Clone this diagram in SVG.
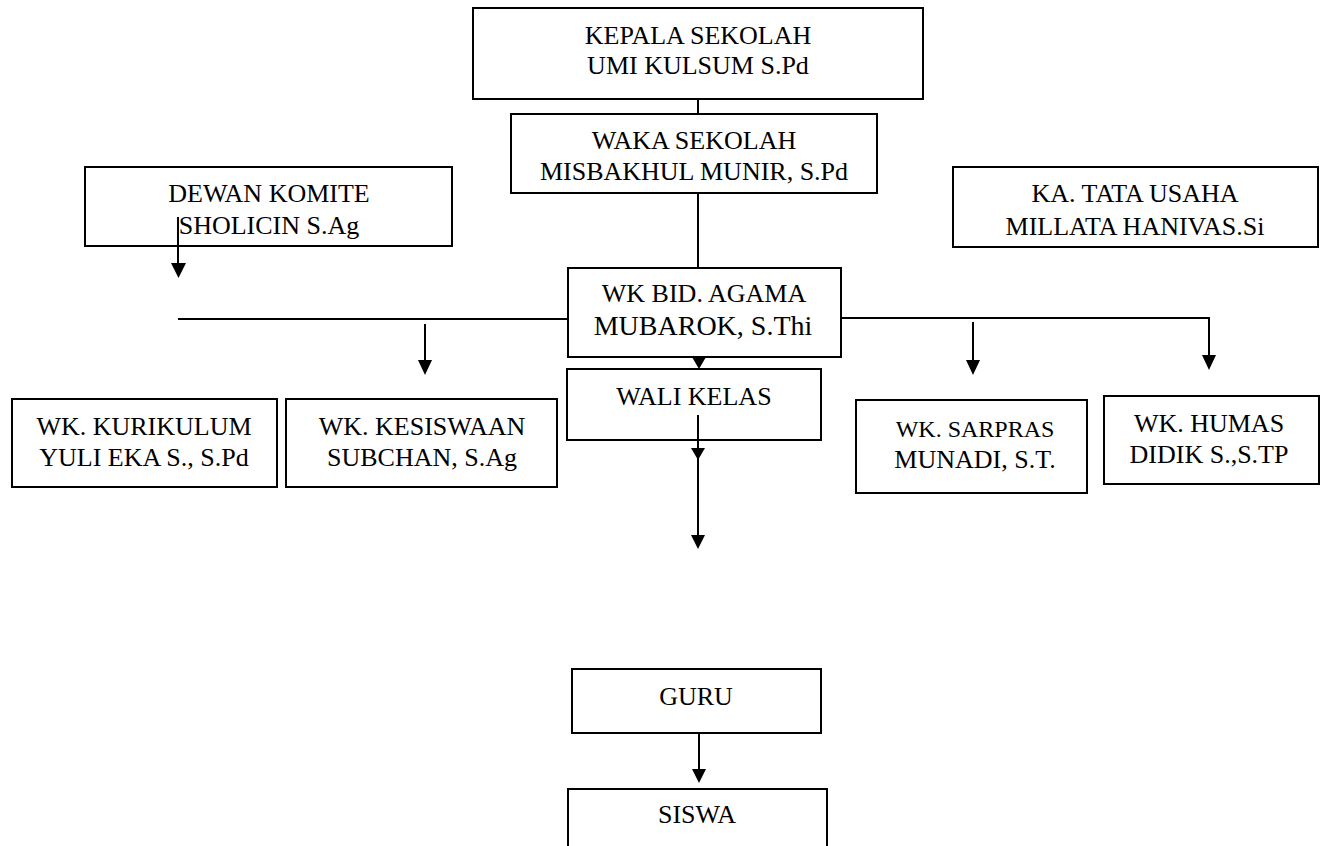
<svg xmlns="http://www.w3.org/2000/svg" width="1328" height="846" viewBox="0 0 1328 846">
<style>
.box{fill:#fff;stroke:#000;stroke-width:2}
.t{font-family:'Liberation Serif','Times New Roman',Tinos,'DejaVu Serif',serif;font-size:26px;text-anchor:middle;fill:#000}
.big{font-size:28px}
.sm{font-size:24px}
.ln{stroke:#000;stroke-width:2;fill:none}
.ah{fill:#000}
</style>
<rect width="1328" height="846" fill="#fff"/>
<g id="kepala">
<rect class="box" x="473" y="8" width="450" height="91"/>
<text class="t" x="698" y="44">KEPALA SEKOLAH</text>
<text class="t" x="698" y="74">UMI KULSUM S.Pd</text>
</g>
<g id="waka">
<rect class="box" x="511" y="114" width="366" height="79"/>
<text class="t" x="694" y="149">WAKA SEKOLAH</text>
<text class="t" x="694" y="180">MISBAKHUL MUNIR, S.Pd</text>
</g>
<g id="dewan">
<rect class="box" x="85" y="167" width="367" height="79"/>
<text class="t" x="269" y="202">DEWAN KOMITE</text>
<text class="t" x="269" y="234">SHOLICIN S.Ag</text>
</g>
<g id="tatausaha">
<rect class="box" x="953" y="167" width="365" height="80"/>
<text class="t" x="1135" y="202">KA. TATA USAHA</text>
<text class="t" x="1135" y="235">MILLATA HANIVAS.Si</text>
</g>
<g id="agama">
<rect class="box" x="568" y="268" width="273" height="89"/>
<text class="t" x="704" y="302">WK BID. AGAMA</text>
<text class="t big" x="703" y="335">MUBAROK, S.Thi</text>
</g>
<g id="walikelas">
<rect class="box" x="567" y="369" width="254" height="71"/>
<text class="t" x="694" y="405">WALI KELAS</text>
</g>
<g id="kurikulum">
<rect class="box" x="12" y="399" width="265" height="88"/>
<text class="t" x="144" y="435">WK. KURIKULUM</text>
<text class="t" x="144" y="466">YULI EKA S., S.Pd</text>
</g>
<g id="kesiswaan">
<rect class="box" x="286" y="399" width="271" height="88"/>
<text class="t" x="422" y="435">WK. KESISWAAN</text>
<text class="t" x="422" y="466">SUBCHAN, S.Ag</text>
</g>
<g id="sarpras">
<rect class="box" x="856" y="400" width="231" height="93"/>
<text class="t sm" x="975" y="437">WK. SARPRAS</text>
<text class="t" x="975" y="468">MUNADI, S.T.</text>
</g>
<g id="humas">
<rect class="box" x="1104" y="396" width="215" height="88"/>
<text class="t" x="1209" y="432">WK. HUMAS</text>
<text class="t" x="1209" y="463">DIDIK S.,S.TP</text>
</g>
<g id="guru">
<rect class="box" x="572" y="669" width="249" height="64"/>
<text class="t" x="696" y="705">GURU</text>
</g>
<g id="siswa">
<rect class="box" x="568" y="789" width="259" height="80"/>
<text class="t" x="697" y="823">SISWA</text>
</g>
<g id="connectors">
<line class="ln" x1="698" y1="99" x2="698" y2="114"/>
<line class="ln" x1="698" y1="193" x2="698" y2="268"/>
<line class="ln" x1="178" y1="217" x2="178" y2="264"/>
<polygon class="ah" points="171,263 186,263 178.5,278"/>
<line class="ln" x1="178" y1="319" x2="568" y2="319"/>
<polyline class="ln" points="841,318 1209,318 1209,356"/>
<polygon class="ah" points="1202,355 1216,355 1209,370"/>
<line class="ln" x1="425" y1="324" x2="425" y2="361"/>
<polygon class="ah" points="418,360 432,360 425,375"/>
<line class="ln" x1="973" y1="322" x2="973" y2="361"/>
<polygon class="ah" points="966,360 980,360 973,375"/>
<polygon class="ah" points="692,357 706,357 699,369"/>
<line class="ln" x1="698" y1="415" x2="698" y2="536"/>
<polygon class="ah" points="691,448 705,448 698,460"/>
<polygon class="ah" points="691,535 705,535 698,549"/>
<line class="ln" x1="699" y1="733" x2="699" y2="770"/>
<polygon class="ah" points="692,769 706,769 699,783"/>
</g>
</svg>
